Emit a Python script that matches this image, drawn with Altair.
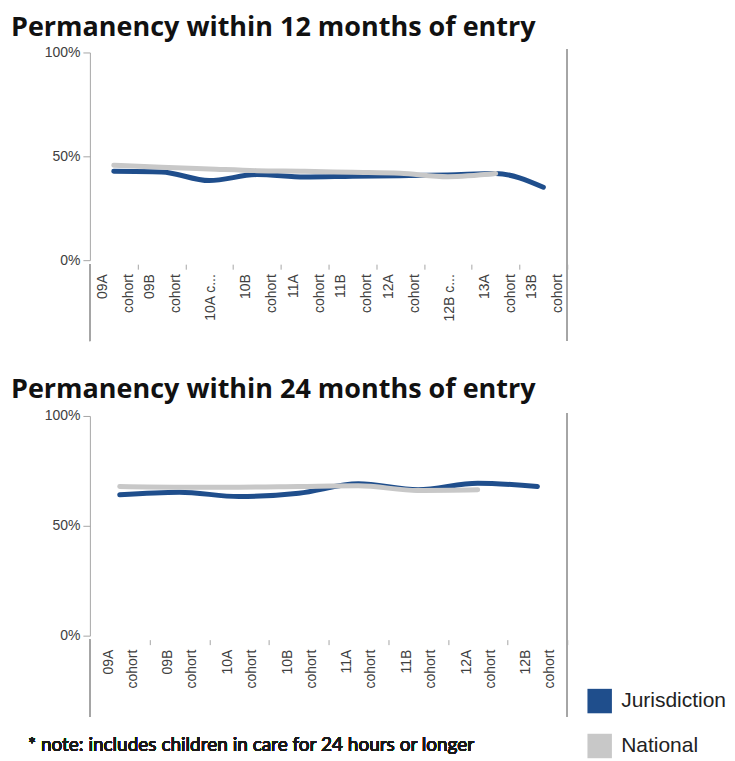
import altair as alt
import pandas as pd

# ---- data ----
cohorts_12 = ["09A|cohort", "09B|cohort", "10A c...", "10B|cohort", "11A|cohort",
              "11B|cohort", "12A|cohort", "12B c...", "13A|cohort", "13B|cohort"]
jurisdiction_12 = [42.8, 42.5, 38.3, 41.2, 40.0, 40.4, 40.7, 41.0, 41.7, 35.1]
national_12 = [45.7, 44.7, 43.9, 43.1, 42.8, 42.3, 41.8, 40.2, 41.7]

cohorts_24 = ["09A|cohort", "09B|cohort", "10A|cohort", "10B|cohort",
              "11A|cohort", "11B|cohort", "12A|cohort", "12B|cohort"]
jurisdiction_24 = [64.1, 65.3, 63.3, 64.8, 69.1, 66.4, 69.4, 67.9]
national_24 = [67.9, 67.6, 67.6, 67.9, 68.2, 66.1, 66.4]

series_names = ["Jurisdiction", "National"]
series_colors = ["#1F4E8C", "#C8C8C8"]

title_12 = "Permanency within 12 months of entry"
title_24 = "Permanency within 24 months of entry"
note_text = "* note: includes children in care for 24 hours or longer"

W = 478
AXIS_GRAY = "#A6A6A6"
LABEL_COLOR = "#404040"


def make_df(cats, jur, nat):
    rows = []
    for c, v in zip(cats, jur):
        rows.append({"cohort": c, "series": "Jurisdiction", "value": v})
    for c, v in zip(cats, nat):
        rows.append({"cohort": c, "series": "National", "value": v})
    return pd.DataFrame(rows)


def make_labels(cats):
    rows = []
    for c in cats:
        parts = c.split("|")
        rows.append({"cohort": c, "l1": parts[0], "l2": parts[1] if len(parts) > 1 else "",
                     "n": len(parts)})
    return pd.DataFrame(rows)


def panel(cats, jur, nat, title, h, d1, d2, title_offset, with_legend=False):
    df = make_df(cats, jur, nat)
    base = alt.Chart(df)
    color_scale = alt.Scale(domain=series_names, range=series_colors)
    x_enc = alt.X(
        "cohort:N",
        sort=cats,
        bandPosition=0.5,
        scale=alt.Scale(type="band", domain=cats, paddingInner=0, paddingOuter=0),
        axis=alt.Axis(
            title=None,
            domain=False,
            tickBand="extent",
            ticks=True,
            tickSize=5,
            tickColor=AXIS_GRAY,
            offset=4,
            labels=False,
            grid=False,
        ),
    )
    y_enc = alt.Y(
        "value:Q",
        scale=alt.Scale(domain=[0, 100], nice=False, zero=True),
        axis=alt.Axis(
            title=None,
            values=[0, 50, 100],
            labelExpr="datum.value + '%'",
            grid=False,
            domainColor=AXIS_GRAY,
            tickColor=AXIS_GRAY,
            tickSize=7,
            labelPadding=3,
            labelFont="Liberation Sans",
            labelFontSize=14,
            labelColor=LABEL_COLOR,
        ),
    )
    if with_legend:
        color_enc = alt.Color("series:N", scale=color_scale)
    else:
        color_enc = alt.Color("series:N", scale=color_scale, legend=None)
    line = base.mark_line(strokeWidth=5, interpolate="monotone", strokeCap="round").encode(
        x=x_enc,
        y=y_enc,
        color=color_enc,
        order=alt.Order("series:N"),
    )

    lab = alt.Chart(make_labels(cats))
    lab_x = alt.X("cohort:N", sort=cats, bandPosition=0.5)
    text_kw = dict(angle=270, align="right", baseline="middle", font="Liberation Sans",
                   fontSize=14, color=LABEL_COLOR)
    lab1 = lab.transform_filter("datum.n == 2").mark_text(dy=d1, **text_kw).encode(
        x=lab_x, y=alt.value(h + 14), text="l1:N")
    lab2 = lab.transform_filter("datum.n == 2").mark_text(dy=d2, **text_kw).encode(
        x=lab_x, y=alt.value(h + 14), text="l2:N")
    lab3 = lab.transform_filter("datum.n == 1").mark_text(dy=2, **text_kw).encode(
        x=lab_x, y=alt.value(h + 14), text="l1:N")

    left_rule = alt.Chart(df).mark_rule(color=AXIS_GRAY, strokeWidth=1).encode(
        x=alt.value(0), y=alt.value(h + 4), y2=alt.value(h + 81)
    )
    right_rule = alt.Chart(df).mark_rule(color=AXIS_GRAY, strokeWidth=1.5).encode(
        x=alt.value(W), y=alt.value(-3), y2=alt.value(h + 81)
    )
    layers = []
    if with_legend:
        legend_layer = base.transform_filter("false").mark_square(filled=True, opacity=1).encode(
            x=alt.X("cohort:N", sort=cats),
            y=alt.Y("value:Q"),
            color=alt.Color(
                "series:N",
                scale=color_scale,
                legend=alt.Legend(
                    title=None,
                    orient="none",
                    legendX=W + 20,
                    legendY=h + 53,
                    symbolType="square",
                    symbolSize=600,
                    symbolStrokeWidth=0,
                    symbolOpacity=1,
                    rowPadding=20,
                    labelFont="Liberation Sans",
                    labelFontSize=21,
                    labelColor="#222222",
                    labelOffset=9,
                ),
            ),
        )
        layers.append(legend_layer)
    layers += [left_rule, right_rule, line, lab1, lab2, lab3]
    if with_legend:
        note = alt.Chart(df).mark_text(
            align="left", baseline="alphabetic", font="Lato", fontSize=19,
            fontWeight="normal", color="#1a1a1a"
        ).encode(x=alt.value(-62), y=alt.value(h + 116), text=alt.value(note_text))
        layers.append(note)
    return alt.layer(*layers).properties(
        width=W,
        height=h,
        title=alt.TitleParams(
            text=title,
            anchor="start",
            frame="group",
            font="Open Sans",
            fontSize=27,
            fontWeight="bold",
            color="#111111",
            dx=-79,
            offset=title_offset,
        ),
    )


p1 = panel(cohorts_12, jurisdiction_12, national_12, title_12, 208, -11, 15, 3)
p2 = panel(cohorts_24, jurisdiction_24, national_24, title_24, 220, -11, 13, 5, with_legend=True)

chart = (
    alt.vconcat(p1, p2, spacing=34)
    .resolve_scale(color="independent")
    .properties(padding={"left": 3, "top": 6, "right": 0, "bottom": 0})
    .configure_view(strokeWidth=0)
)

chart.save("out.html", embed_options={"renderer": "svg", "actions": False})
